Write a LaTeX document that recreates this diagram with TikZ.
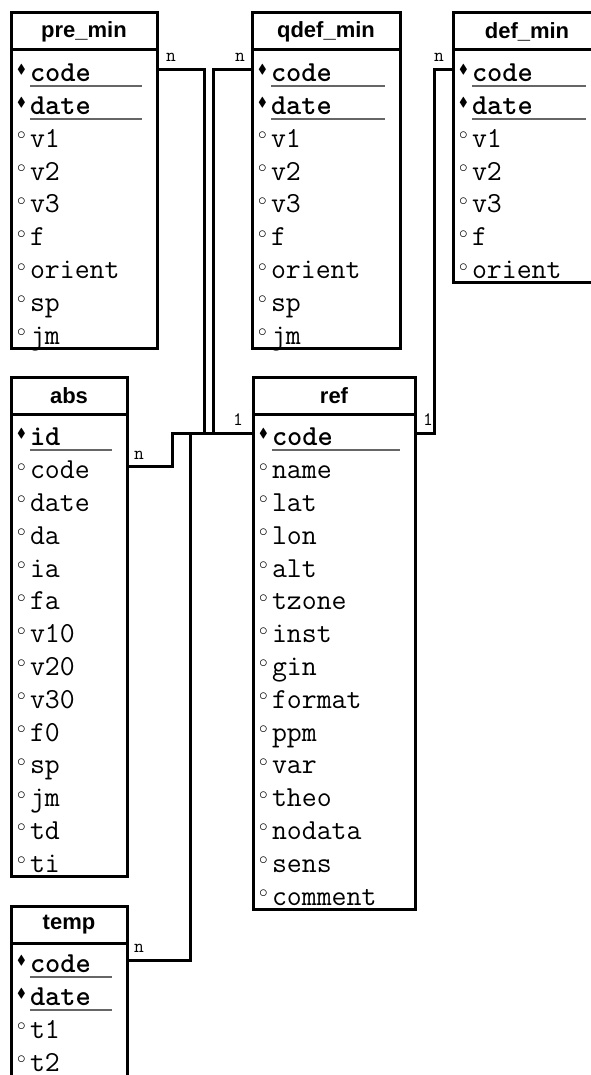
\documentclass[tikz,border=0pt]{standalone}
\usepackage{amssymb}
\usepackage{fontspec}
\setsansfont{Liberation Sans}

\newcommand{\pkmark}{\makebox[13pt][l]{\raisebox{8pt}{\fontsize{13}{13}\selectfont$\blacklozenge$}}}
\newcommand{\fdmark}{\makebox[13pt][l]{\raisebox{7.5pt}{\fontsize{18}{18}\selectfont$\circ$}}}

\begin{document}
\begin{tikzpicture}[
  x=1pt, y=-1pt,
  head/.style={draw, line width=3pt, outer sep=0, inner sep=0, anchor=north west,
    minimum height=37pt, font=\sffamily\bfseries\fontsize{22}{22}\selectfont},
  field/.style={anchor=north west, inner sep=0, outer sep=0, align=left,
    text height=28.8pt, text depth=4pt, font=\ttfamily\fontsize{29}{29}\selectfont},
  body/.style={draw, line width=3pt},
  keyline/.style={draw=black!60, line width=2pt},
  link/.style={draw, line width=3pt},
  card/.style={inner sep=0, font=\ttfamily\fontsize{19}{19}\selectfont}
]
\useasboundingbox (0,0) rectangle (590,1075);

% pre_min
\node[head, minimum width=146pt] (pre) at (11,13) {pre\_min};
\foreach \f/\k [count=\i] in {code/1,date/1,v1/0,v2/0,v3/0,f/0,orient/0,sp/0,jm/0}{
  \node[field, text width=138pt] (pre-\i) at (17,{53+32.8*(\i-1)}) {\ifnum\k=1 \pkmark\textbf{\f}\else\fdmark\f\fi};
  \ifnum\k=1 \draw[keyline] ([xshift=13pt]pre-\i.south west) -- ([xshift=-13pt]pre-\i.south east);\fi
}
\draw[body] (pre.south west) rectangle (pre-9.south -| pre.east);

% qdef_min
\node[head, minimum width=148pt] (qdef) at (252,13) {qdef\_min};
\foreach \f/\k [count=\i] in {code/1,date/1,v1/0,v2/0,v3/0,f/0,orient/0,sp/0,jm/0}{
  \node[field, text width=140pt] (qdef-\i) at (258,{53+32.8*(\i-1)}) {\ifnum\k=1 \pkmark\textbf{\f}\else\fdmark\f\fi};
  \ifnum\k=1 \draw[keyline] ([xshift=13pt]qdef-\i.south west) -- ([xshift=-13pt]qdef-\i.south east);\fi
}
\draw[body] (qdef.south west) rectangle (qdef-9.south -| qdef.east);

% def_min
\node[head, minimum width=148pt] (def) at (453,13) {def\_min};
\foreach \f/\k [count=\i] in {code/1,date/1,v1/0,v2/0,v3/0,f/0,orient/0}{
  \node[field, text width=140pt] (def-\i) at (459,{53+32.8*(\i-1)}) {\ifnum\k=1 \pkmark\textbf{\f}\else\fdmark\f\fi};
  \ifnum\k=1 \draw[keyline] ([xshift=13pt]def-\i.south west) -- ([xshift=-13pt]def-\i.south east);\fi
}
\draw[body] (def.south west) rectangle (def-7.south -| def.east);

% abs
\node[head, minimum width=116pt] (abs) at (11,377) {abs};
\foreach \f/\k [count=\i] in {id/1,code/0,date/0,da/0,ia/0,fa/0,v10/0,v20/0,v30/0,f0/0,sp/0,jm/0,td/0,ti/0}{
  \node[field, text width=108pt] (abs-\i) at (17,{417+32.8*(\i-1)}) {\ifnum\k=1 \pkmark\textbf{\f}\else\fdmark\f\fi};
  \ifnum\k=1 \draw[keyline] ([xshift=13pt]abs-\i.south west) -- ([xshift=-13pt]abs-\i.south east);\fi
}
\draw[body] (abs.south west) rectangle (abs-14.south -| abs.east);

% ref
\node[head, minimum width=162pt] (ref) at (253,377) {ref};
\foreach \f/\k [count=\i] in {code/1,name/0,lat/0,lon/0,alt/0,tzone/0,inst/0,gin/0,format/0,ppm/0,var/0,theo/0,nodata/0,sens/0,comment/0}{
  \node[field, text width=154pt] (ref-\i) at (259,{417+32.8*(\i-1)}) {\ifnum\k=1 \pkmark\textbf{\f}\else\fdmark\f\fi};
  \ifnum\k=1 \draw[keyline] ([xshift=13pt]ref-\i.south west) -- ([xshift=-13pt]ref-\i.south east);\fi
}
\draw[body] (ref.south west) rectangle (ref-15.south -| ref.east);

% temp
\node[head, minimum width=116pt] (temp) at (11,906) {temp};
\foreach \f/\k [count=\i] in {code/1,date/1,t1/0,t2/0}{
  \node[field, text width=108pt] (temp-\i) at (17,{944+32.8*(\i-1)}) {\ifnum\k=1 \pkmark\textbf{\f}\else\fdmark\f\fi};
  \ifnum\k=1 \draw[keyline] ([xshift=13pt]temp-\i.south west) -- ([xshift=-13pt]temp-\i.south east);\fi
}
\draw[body] (temp.south west) rectangle ([yshift=-4pt]temp-4.south -| temp.east);

% links to ref
\draw[link] (pre-1 -| pre.east) node[card, xshift=14pt, yshift=12pt] (pre-n) {n}
  -- ++(47,0) |- (ref-1 -| ref.west) node[card, xshift=-15pt, yshift=14pt] (ref-l1) {1};
\draw[link] (qdef-1 -| qdef.west) node[card, xshift=-12pt, yshift=12pt] (qdef-n) {n}
  -- ++(-39,0) |- (ref-1 -| ref.west);
\draw[link] (def-1 -| def.west) node[card, xshift=-14pt, yshift=12pt] (def-n) {n}
  -- ++(-19,0) |- (ref-1 -| ref.east) node[card, xshift=13pt, yshift=14pt] (ref-r1) {1};
\draw[link] (abs-2 -| abs.east) node[card, xshift=12pt, yshift=11pt] (abs-n) {n}
  -- ++(45,0) |- (ref-1 -| ref.west);
\draw[link] (temp-1 -| temp.east) node[card, xshift=12pt, yshift=12pt] (temp-n) {n}
  -- ++(63,0) |- (ref-1 -| ref.west);

\end{tikzpicture}
\end{document}
